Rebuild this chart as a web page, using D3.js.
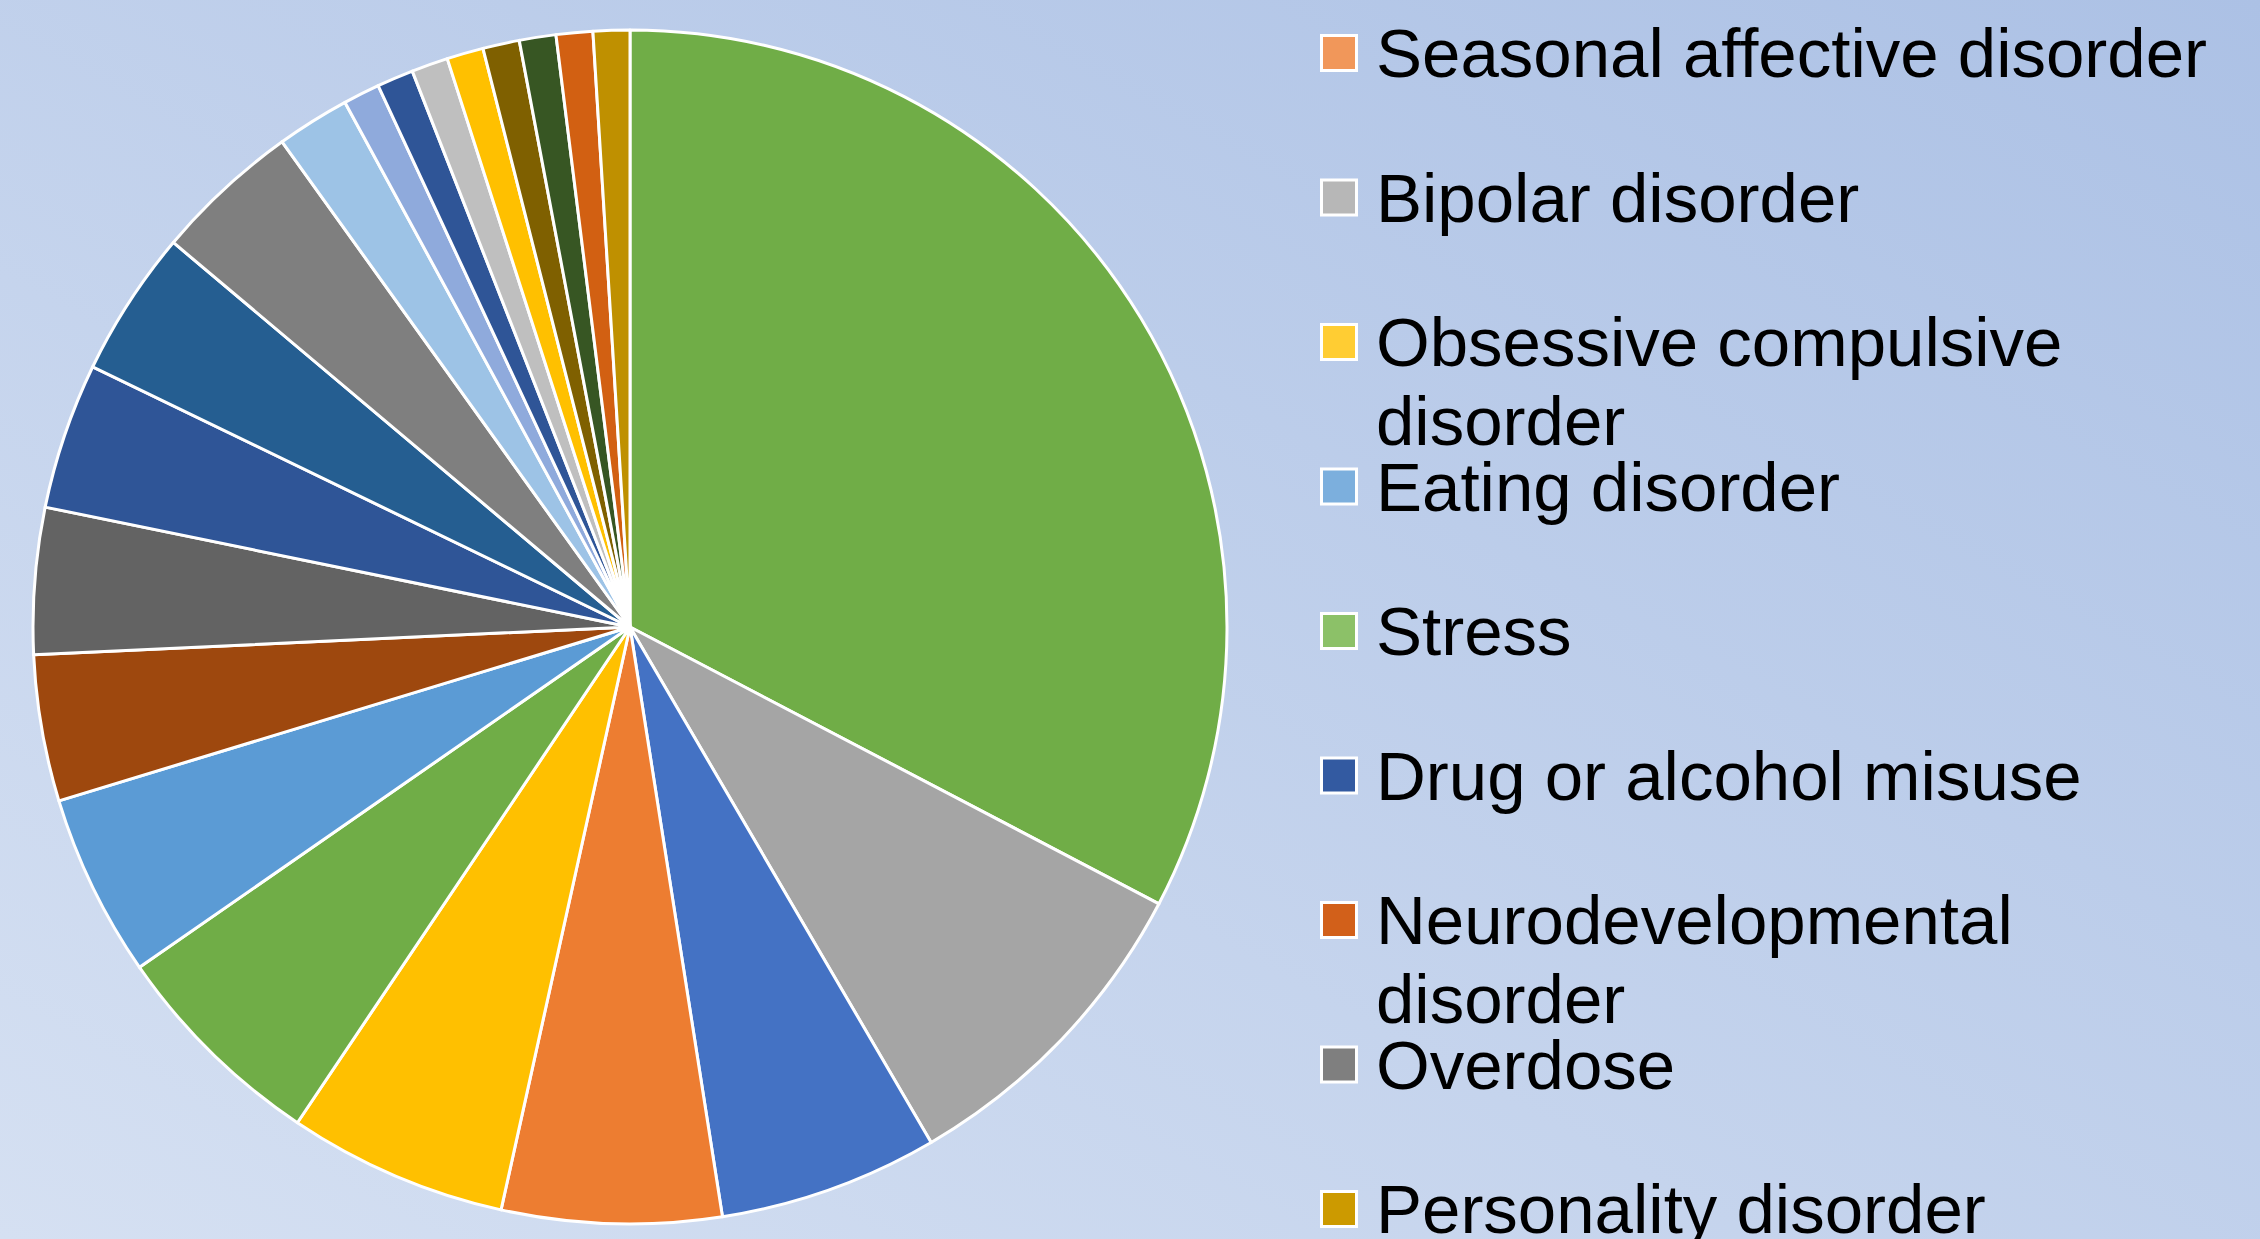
<!DOCTYPE html>
<html>
<head>
<meta charset="utf-8">
<script src="https://cdnjs.cloudflare.com/ajax/libs/d3/7.8.5/d3.min.js"></script>
<style>
  html, body { margin: 0; padding: 0; overflow: hidden; }
  svg { display: block; }
</style>
</head>
<body>
<div class="chart"></div>
<script>
// slice values, in drawing order (clockwise from 12 o'clock)
var sliceValues = [33, 9, 6, 6, 6, 6, 5, 4, 4, 4, 4, 4, 2, 1, 1, 1, 1, 1, 1, 1, 1];
var sliceColors = ["#70AD47", "#A5A5A5", "#4472C4", "#ED7D31", "#FFC000", "#70AD47",
                   "#5B9BD5", "#9E480E", "#636363", "#2F5597", "#255E91", "#7F7F7F",
                   "#9DC3E6", "#8FAADC", "#2F5597", "#BFBFBF", "#FFC000", "#7F6000",
                   "#375623", "#D26012", "#BF9000"];

// legend entries (the visible part of the legend)
var legendLabels = ["Seasonal affective disorder", "Bipolar disorder", "Obsessive compulsive disorder",
                    "Eating disorder", "Stress", "Drug or alcohol misuse",
                    "Neurodevelopmental disorder", "Overdose", "Personality disorder"];
var legendColors = ["#F1975A", "#B7B7B7", "#FFCD33", "#7CAFDD", "#8CC168", "#335AA1",
                    "#D2601A", "#7F7F7F", "#CC9A00"];

var width = 2260, height = 1239;
var cx = 630, cy = 627, radius = 597;

var svg = d3.select("div.chart").append("svg")
    .attr("width", width)
    .attr("height", height);

var grad = svg.append("defs").append("linearGradient")
    .attr("id", "bg")
    .attr("x1", "0%").attr("y1", "100%")
    .attr("x2", "100%").attr("y2", "0%");
grad.append("stop").attr("offset", "0%").attr("stop-color", "#D5E0F2");
grad.append("stop").attr("offset", "100%").attr("stop-color", "#ACC1E5");

svg.append("rect")
    .attr("width", width)
    .attr("height", height)
    .attr("fill", "url(#bg)");

var pie = d3.pie().sort(null).value(function(d) { return d; });
var arc = d3.arc().innerRadius(0).outerRadius(radius);

var g = svg.append("g").attr("transform", "translate(" + cx + "," + cy + ")");

g.selectAll("path")
    .data(pie(sliceValues))
    .enter().append("path")
    .attr("d", arc)
    .attr("fill", function(d, i) { return sliceColors[i]; })
    .attr("stroke", "#fff")
    .attr("stroke-width", 3)
    .attr("stroke-linejoin", "round");

// legend
var fontSize = 69, lineH = 79, wrapW = 860;
var ly = d3.scaleLinear().domain([0, 1]).range([53, 197.5]);

var items = svg.append("g").selectAll("g")
    .data(legendLabels)
    .enter().append("g")
    .attr("transform", function(d, i) { return "translate(1320," + ly(i) + ")"; });

items.append("rect")
    .attr("x", 1.5).attr("y", -17.5)
    .attr("width", 35).attr("height", 35)
    .attr("fill", function(d, i) { return legendColors[i]; })
    .attr("stroke", "#fff")
    .attr("stroke-width", 3);

items.append("text")
    .attr("x", 56)
    .attr("y", fontSize * 0.35)
    .attr("font-family", "'Liberation Sans', Arial, sans-serif")
    .attr("font-size", fontSize)
    .attr("fill", "#000")
    .each(function(d) {
      var t = d3.select(this), words = d.split(" "), line = [], n = 0;
      var tspan = t.append("tspan").attr("x", 56).attr("dy", 0);
      words.forEach(function(w) {
        line.push(w);
        tspan.text(line.join(" "));
        if (tspan.node().getComputedTextLength() > wrapW && line.length > 1) {
          line.pop();
          tspan.text(line.join(" "));
          line = [w];
          n++;
          tspan = t.append("tspan").attr("x", 56).attr("dy", lineH).text(w);
        }
      });
    });
</script>
</body>
</html>
